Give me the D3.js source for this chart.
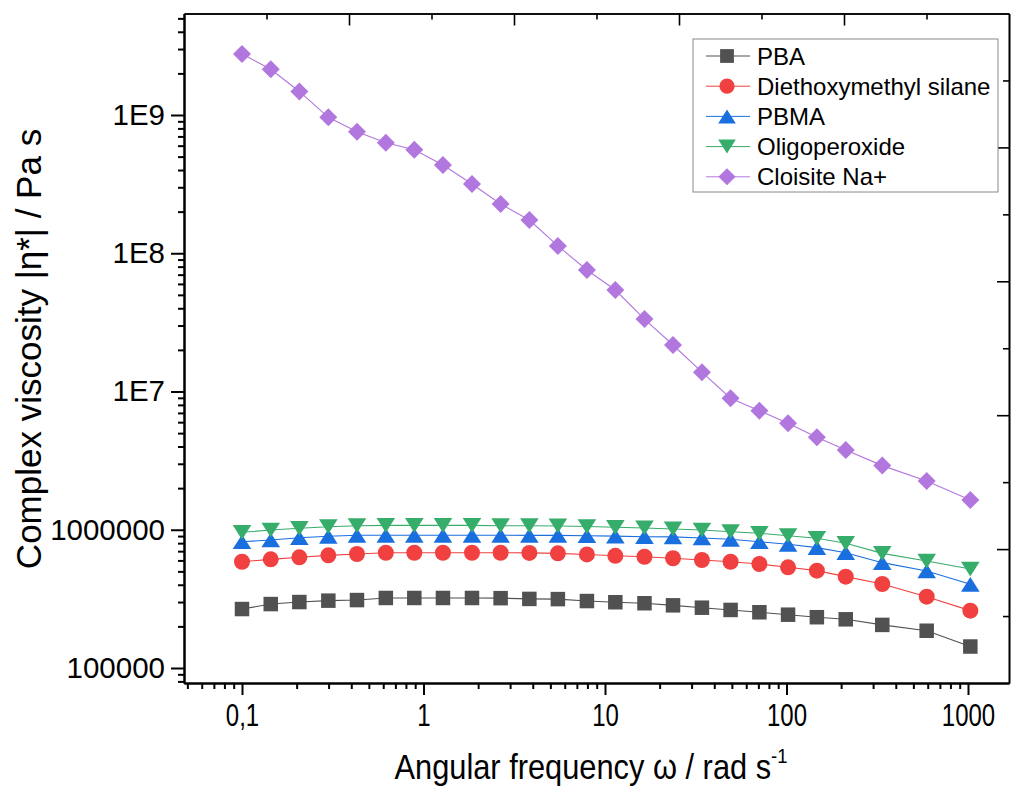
<!DOCTYPE html>
<html>
<head>
<meta charset="utf-8">
<script src="https://cdn.jsdelivr.net/npm/d3@7"></script>
<style>
    body { margin: 0; background: #fff; }
    svg { display: block; font-family: "Liberation Sans", Arial, sans-serif; }
</style>
</head>
<body>
<svg id="chart" width="1014" height="789"></svg>
<script>
// angular frequency, rad/s
const freq = [0.1, 0.144, 0.207, 0.299, 0.43, 0.62, 0.89, 1.28, 1.85, 2.66, 3.83, 5.5, 7.95,
    11.4, 16.5, 23.7, 34.2, 49.2, 70.9, 102, 147, 212, 337, 592, 1030];

// complex viscosity, Pa s
const pba = [2.67e5, 2.90e5, 3.00e5, 3.07e5, 3.10e5, 3.21e5, 3.21e5, 3.21e5, 3.21e5, 3.20e5, 3.16e5, 3.15e5, 3.05e5,
    2.99e5, 2.94e5, 2.84e5, 2.73e5, 2.63e5, 2.53e5, 2.43e5, 2.33e5, 2.25e5, 2.05e5, 1.86e5, 1.43e5];
const silane = [5.87e5, 6.11e5, 6.32e5, 6.53e5, 6.68e5, 6.82e5, 6.82e5, 6.82e5, 6.82e5, 6.82e5, 6.80e5, 6.75e5, 6.63e5,
    6.48e5, 6.38e5, 6.22e5, 6.04e5, 5.87e5, 5.65e5, 5.35e5, 5.06e5, 4.58e5, 4.05e5, 3.28e5, 2.60e5];
const pbma = [8.19e5, 8.43e5, 8.76e5, 8.97e5, 9.12e5, 9.12e5, 9.12e5, 9.12e5, 9.12e5, 9.12e5, 9.10e5, 9.10e5, 9.05e5,
    9.00e5, 8.91e5, 8.88e5, 8.72e5, 8.53e5, 8.19e5, 7.85e5, 7.42e5, 6.82e5, 5.78e5, 5.03e5, 4.03e5];
const oligo = [9.58e5, 9.96e5, 1.025e6, 1.052e6, 1.07e6, 1.075e6, 1.075e6, 1.075e6, 1.075e6, 1.07e6, 1.07e6, 1.065e6, 1.055e6,
    1.042e6, 1.03e6, 1.013e6, 9.96e5, 9.68e5, 9.43e5, 9.06e5, 8.67e5, 7.98e5, 6.75e5, 5.94e5, 5.20e5];
const cloisite = [2.76e9, 2.14e9, 1.48e9, 9.62e8, 7.57e8, 6.3e8, 5.6e8, 4.35e8, 3.17e8, 2.27e8, 1.74e8, 1.13e8, 7.57e7,
    5.42e7, 3.34e7, 2.17e7, 1.38e7, 8.94e6, 7.26e6, 5.89e6, 4.67e6, 3.78e6, 2.91e6, 2.25e6, 1.64e6];

const seriesNames = ['PBA', 'Diethoxymethyl silane', 'PBMA', 'Oligoperoxide', 'Cloisite Na+'];
const seriesColors = ['#515151', '#F14040', '#1A6FDF', '#37AD6B', '#B177DE'];
const seriesShapes = ['square', 'circle', 'triangleUp', 'triangleDown', 'diamond'];

const xTickVals = [0.1, 1, 10, 100, 1000];
const xTickLabels = ['0,1', '1', '10', '100', '1000'];
const yTickVals = [1e5, 1e6, 1e7, 1e8, 1e9];
const yTickLabels = ['100000', '1000000', '1E7', '1E8', '1E9'];

let svg = d3.select('svg#chart'),
    frame = {left: 184, right: 1009, top: 13.5, bottom: 683};

// scales: calibrated on the labelled ticks, then stretched to the frame
let xScale = d3.scaleLog().domain([0.1, 1000]).range([242, 968]);
xScale.domain([xScale.invert(frame.left), xScale.invert(frame.right)]).range([frame.left, frame.right]);
let yScale = d3.scaleLog().domain([1e5, 1e9]).range([668, 115]);
yScale.domain([yScale.invert(frame.bottom), yScale.invert(frame.top)]).range([frame.bottom, frame.top]);

function logMinors(scale) {
    let d = scale.domain(), lo = Math.min(d[0], d[1]), hi = Math.max(d[0], d[1]);
    let out = [];
    for (let e = Math.floor(Math.log10(lo)); e <= Math.ceil(Math.log10(hi)); e++) {
        for (let m = 2; m <= 9; m++) {
            let v = m * Math.pow(10, e);
            if (v >= lo && v <= hi) out.push(v);
        }
    }
    return out;
}

function styleAxis(g, width) {
    g.select('.domain').attr('stroke', '#000').attr('stroke-width', width);
    g.selectAll('.tick line').attr('stroke', '#000').attr('stroke-width', width);
}

// top and right frame with their own linear tick marks (inward)
let topScale = d3.scaleLinear().domain([0, 10]).range([frame.left, frame.right]);
let rightScale = d3.scaleLinear().domain([0, 10]).range([frame.bottom, frame.top]);

svg.append('g').attr('transform', 'translate(0,' + frame.top + ')')
    .call(d3.axisBottom(topScale).tickValues(d3.range(1, 10, 2)).tickSize(6).tickSizeOuter(0).tickFormat(''))
    .call(g => styleAxis(g, 1.6));
svg.append('g').attr('transform', 'translate(0,' + frame.top + ')')
    .call(d3.axisBottom(topScale).tickValues(d3.range(2, 10, 2)).tickSize(12).tickSizeOuter(0).tickFormat(''))
    .call(g => styleAxis(g, 1.6));
svg.append('g').attr('transform', 'translate(' + frame.right + ',0)')
    .call(d3.axisLeft(rightScale).tickValues(d3.range(1, 10, 2)).tickSize(6).tickSizeOuter(0).tickFormat(''))
    .call(g => styleAxis(g, 1.6));
svg.append('g').attr('transform', 'translate(' + frame.right + ',0)')
    .call(d3.axisLeft(rightScale).tickValues(d3.range(2, 10, 2)).tickSize(12).tickSizeOuter(0).tickFormat(''))
    .call(g => styleAxis(g, 1.6));

// left axis
svg.append('g').attr('transform', 'translate(' + frame.left + ',0)')
    .call(d3.axisLeft(yScale).tickValues(logMinors(yScale)).tickSize(6).tickSizeOuter(0).tickFormat(''))
    .call(g => styleAxis(g, 2));
let yAxisG = svg.append('g').attr('transform', 'translate(' + frame.left + ',0)')
    .call(d3.axisLeft(yScale).tickValues(yTickVals).tickSize(13).tickSizeOuter(0).tickPadding(6)
        .tickFormat((d, i) => yTickLabels[i]))
    .call(g => styleAxis(g, 2));
yAxisG.selectAll('text').attr('font-size', 29.5).attr('fill', '#000')
    .attr('font-family', '"Liberation Sans", Arial, sans-serif');

// bottom axis
svg.append('g').attr('transform', 'translate(0,' + frame.bottom + ')')
    .call(d3.axisBottom(xScale).tickValues(logMinors(xScale)).tickSize(6).tickSizeOuter(0).tickFormat(''))
    .call(g => styleAxis(g, 2));
let xAxisG = svg.append('g').attr('transform', 'translate(0,' + frame.bottom + ')')
    .call(d3.axisBottom(xScale).tickValues(xTickVals).tickSize(12).tickSizeOuter(0).tickPadding(8)
        .tickFormat((d, i) => xTickLabels[i]))
    .call(g => styleAxis(g, 2));
xAxisG.selectAll('text').attr('font-size', 32).attr('fill', '#000')
    .attr('font-family', '"Liberation Sans", Arial, sans-serif')
    .attr('transform', 'scale(0.75,1)');

// axis titles
svg.append('text')
    .attr('transform', 'translate(41,349) rotate(-90)')
    .attr('text-anchor', 'middle')
    .attr('font-size', 35)
    .text('Complex viscosity |η*| / Pa s');

let xTitle = svg.append('text')
    .attr('transform', 'translate(591,779) scale(0.88,1)')
    .attr('text-anchor', 'middle')
    .attr('font-size', 35);
xTitle.append('tspan').text('Angular frequency ω / rad s');
xTitle.append('tspan').attr('font-size', 21).attr('dy', -16).text('-1');

// marker paths, centred on their bounding box
function markerPath(shape, s) {
    let h = s / 2;
    switch (shape) {
        case 'square':
            return 'M' + (-h) + ',' + (-h) + 'H' + h + 'V' + h + 'H' + (-h) + 'Z';
        case 'circle':
            return d3.symbol(d3.symbolCircle, Math.PI * h * h)();
        case 'triangleUp': {
            let w = s * 1.2 / 2, t = s * 0.95 / 2;
            return 'M0,' + (-t) + 'L' + w + ',' + t + 'L' + (-w) + ',' + t + 'Z';
        }
        case 'triangleDown': {
            let w = s * 1.2 / 2, t = s * 0.95 / 2;
            return 'M0,' + t + 'L' + w + ',' + (-t) + 'L' + (-w) + ',' + (-t) + 'Z';
        }
        case 'diamond': {
            let r = s * 0.6;
            return 'M0,' + (-r) + 'L' + r + ',0L0,' + r + 'L' + (-r) + ',0Z';
        }
    }
}

const allSeries = [pba, silane, pbma, oligo, cloisite];
const markerSize = [14.5, 16, 15.5, 15.5, 15];

let line = d3.line()
    .x(d => xScale(d.x))
    .y(d => yScale(d.y));

let plot = svg.append('g').attr('id', 'series');
allSeries.forEach(function (vals, si) {
    let pts = freq.map((f, i) => ({x: f, y: vals[i]}));
    let g = plot.append('g');
    g.append('path')
        .datum(pts)
        .attr('d', line)
        .attr('fill', 'none')
        .attr('stroke', seriesColors[si])
        .attr('stroke-width', 1.1);
    g.selectAll('path.marker')
        .data(pts)
        .enter().append('path')
        .attr('class', 'marker')
        .attr('transform', d => 'translate(' + xScale(d.x) + ',' + yScale(d.y) + ')')
        .attr('d', markerPath(seriesShapes[si], markerSize[si]))
        .attr('fill', seriesColors[si]);
});

// legend
let legend = svg.append('g').attr('id', 'legend');
legend.append('rect')
    .attr('x', 693).attr('y', 39)
    .attr('width', 305).attr('height', 153)
    .attr('fill', '#fff')
    .attr('stroke', '#8a8a8a')
    .attr('stroke-width', 1);
seriesNames.forEach(function (name, i) {
    let cy = 56 + i * 30.2;
    legend.append('line')
        .attr('x1', 706).attr('x2', 750)
        .attr('y1', cy).attr('y2', cy)
        .attr('stroke', seriesColors[i]).attr('stroke-width', 1);
    legend.append('path')
        .attr('transform', 'translate(727,' + cy + ')')
        .attr('d', markerPath(seriesShapes[i], markerSize[i] * 0.95))
        .attr('fill', seriesColors[i]);
    legend.append('text')
        .attr('x', 757).attr('y', cy + 8.6)
        .attr('font-size', 24)
        .text(name);
});
</script>
</body>
</html>
